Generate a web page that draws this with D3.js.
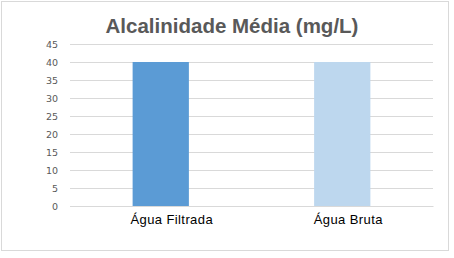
<!DOCTYPE html>
<meta charset="utf-8">
<script src="https://d3js.org/d3.v7.min.js"></script>
<style>
body { margin: 0; background: #fff; }
</style>
<div id="chart"></div>
<script>

// data
var categories = ["Água Filtrada", "Água Bruta"];
var values = [40, 40];
var barColors = ["#5b9bd5", "#bdd7ee"];
var yTicks = [0, 5, 10, 15, 20, 25, 30, 35, 40, 45];
var title = "Alcalinidade Média (mg/L)";

var W = 454, H = 258;
var margin = {top: 44, right: 21, bottom: 52, left: 70},
    width = W - margin.left - margin.right,
    height = H - margin.top - margin.bottom;

var svg = d3.select("#chart").append("svg")
    .attr("width", W)
    .attr("height", H);

// outer chart border
svg.append("rect")
  .attr("x", 1.5).attr("y", 1.5)
  .attr("width", 447).attr("height", 249)
  .attr("fill", "none")
  .attr("stroke", "#d9d9d9");

var g = svg.append("g")
  .attr("transform", "translate(" + margin.left + "," + margin.top + ")");

var x = d3.scaleBand()
  .domain(categories)
  .range([0, width])
  .paddingInner(0.69)
  .paddingOuter(0.345);

var y = d3.scaleLinear()
  .domain([0, 45])
  .range([height, 0]);

// gridlines
g.selectAll(".grid")
  .data(yTicks)
  .enter().append("line")
    .attr("x1", 0).attr("x2", width)
    .attr("y1", function(d) { return Math.round(y(d)) + 0.5; })
    .attr("y2", function(d) { return Math.round(y(d)) + 0.5; })
    .attr("stroke", "#d9d9d9");

// y axis labels
var yAxis = g.append("g")
  .call(d3.axisLeft(y).tickValues(yTicks).tickSize(0).tickPadding(12));
yAxis.select(".domain").remove();
yAxis.selectAll("text")
  .attr("fill", "#595959")
  .style("font-family", "DejaVu Sans")
  .style("font-size", "9.5px");

// bars
g.selectAll(".bar")
  .data(values)
  .enter().append("rect")
    .attr("x", function(d, i) { return x(categories[i]); })
    .attr("y", function(d) { return y(d); })
    .attr("width", x.bandwidth())
    .attr("height", function(d) { return height - y(d); })
    .attr("fill", function(d, i) { return barColors[i]; });

// x axis
var xAxis = g.append("g")
  .attr("transform", "translate(0," + height + ")")
  .call(d3.axisBottom(x).tickSize(0).tickPadding(9));
xAxis.select(".domain")
  .attr("stroke", "#d9d9d9");
xAxis.selectAll("text")
  .attr("fill", "#000")
  .attr("dx", function(d, i) { return i === 0 ? 11 : 6; })
  .style("font-family", "Liberation Sans, Arial")
  .style("font-size", "13px")
  .style("letter-spacing", "0.4px");

// title
svg.append("text")
  .attr("x", 232)
  .attr("y", 33)
  .attr("text-anchor", "middle")
  .attr("fill", "#595959")
  .style("font-family", "Liberation Sans, Arial")
  .style("font-size", "20.5px")
  .style("font-weight", "bold")
  .text(title);

</script>
